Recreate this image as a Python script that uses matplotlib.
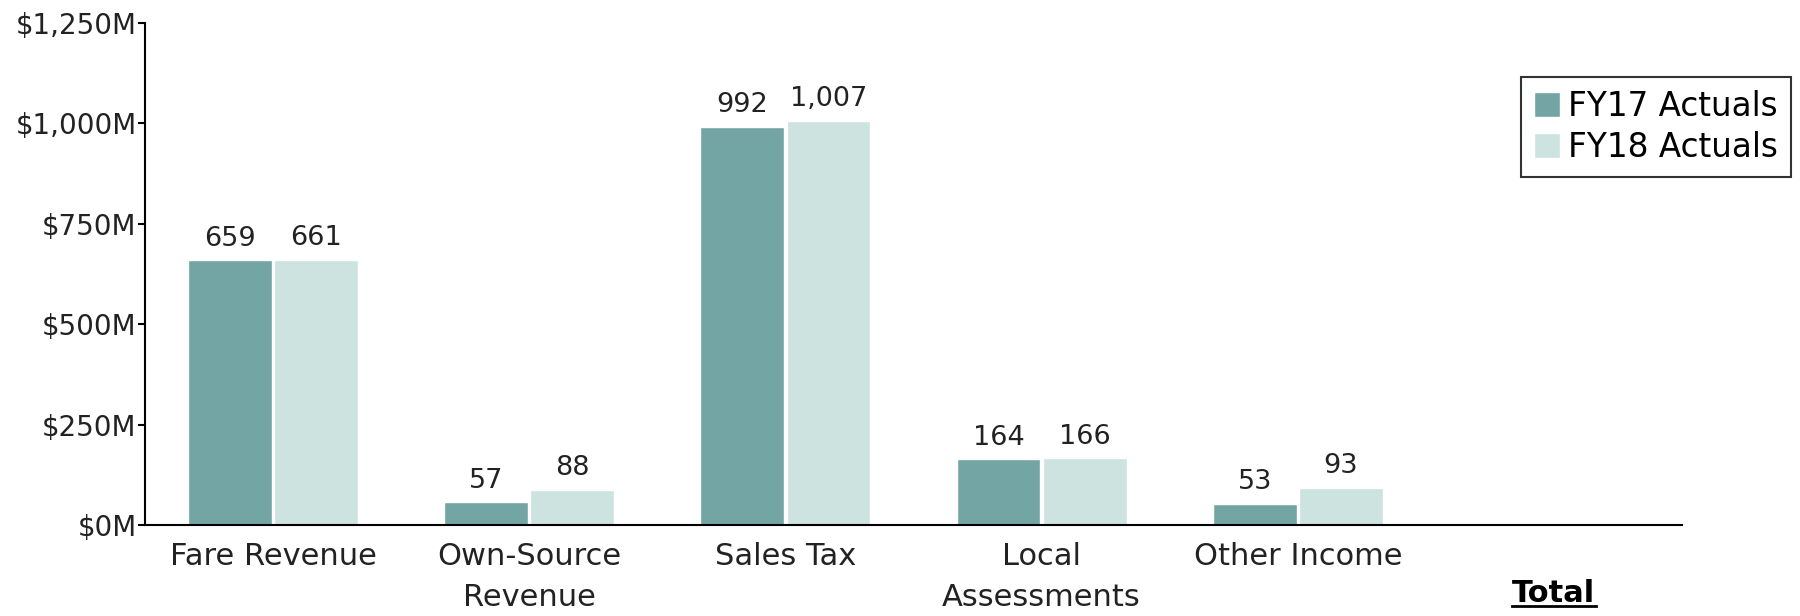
import matplotlib.pyplot as plt
import numpy as np
from matplotlib.lines import Line2D

# Data ($M)
categories = ["Fare Revenue", "Own-Source\nRevenue", "Sales Tax", "Local\nAssessments", "Other Income", "Total"]
fy17_actuals = [659, 57, 992, 164, 53, np.nan]
fy18_actuals = [661, 88, 1007, 166, 93, np.nan]
series_names = ["FY17 Actuals", "FY18 Actuals"]
y_ticks = [0, 250, 500, 750, 1000, 1250]

colors = ["#72A5A4", "#CDE3DF"]
text_color = "#222222"

plt.rcParams["font.family"] = ["DejaVu Sans"]

fig = plt.figure(figsize=(18, 6.16), dpi=100)
ax = fig.add_axes([0.0805, 0.1477, 0.854, 0.815])

x = np.arange(len(categories))
width = 0.327
offset = 0.168

for i, (vals, name) in enumerate(zip([fy17_actuals, fy18_actuals], series_names)):
    pos = x + (-offset if i == 0 else offset)
    ax.bar(pos, vals, width, color=colors[i], edgecolor="white", linewidth=1, label=name)
    # value labels above the bars
    for xp, v in zip(pos, vals):
        if np.isnan(v):
            continue
        ax.annotate(f"{v:,.0f}", (xp, v), xytext=(0, 6), textcoords="offset points",
                    ha="center", va="bottom", fontsize=19.5, color=text_color)

ax.set_xlim(-0.5, len(categories) - 0.5)
ax.set_ylim(0, 1250)
ax.set_yticks(y_ticks)
ax.set_yticklabels([f"${v:,}M" for v in y_ticks], fontsize=20, color=text_color)
ax.set_xticks(x)
ax.set_xticklabels(categories, fontsize=22, color=text_color, linespacing=1.55)

ax.spines["top"].set_visible(False)
ax.spines["right"].set_visible(False)
ax.spines["left"].set_linewidth(1.5)
ax.spines["bottom"].set_linewidth(1.5)
ax.tick_params(axis="y", length=5, width=1.5, pad=1)
ax.tick_params(axis="x", length=0, pad=12)

# "Total" sits one line lower, bold and underlined
total_tick = ax.xaxis.get_major_ticks()[-1]
total_tick.set_pad(39)
total_label = ax.get_xticklabels()[-1]
total_label.set_fontweight("bold")
total_label.set_color("black")

leg = ax.legend(loc="upper right", bbox_to_anchor=(0.995, 0.875), bbox_transform=fig.transFigure,
                fontsize=23.5, frameon=True, fancybox=False, edgecolor="black",
                handlelength=0.8, handleheight=0.8, handletextpad=0.25,
                borderpad=0.4, labelspacing=0.25, borderaxespad=0)
leg.get_frame().set_linewidth(1.5)

fig.canvas.draw()
bb = total_label.get_window_extent().transformed(fig.transFigure.inverted())
fig.add_artist(Line2D([bb.x0, bb.x1], [bb.y0 + 0.004, bb.y0 + 0.004], transform=fig.transFigure,
                      color="black", linewidth=2))

fig.savefig("out.png", dpi=100)
